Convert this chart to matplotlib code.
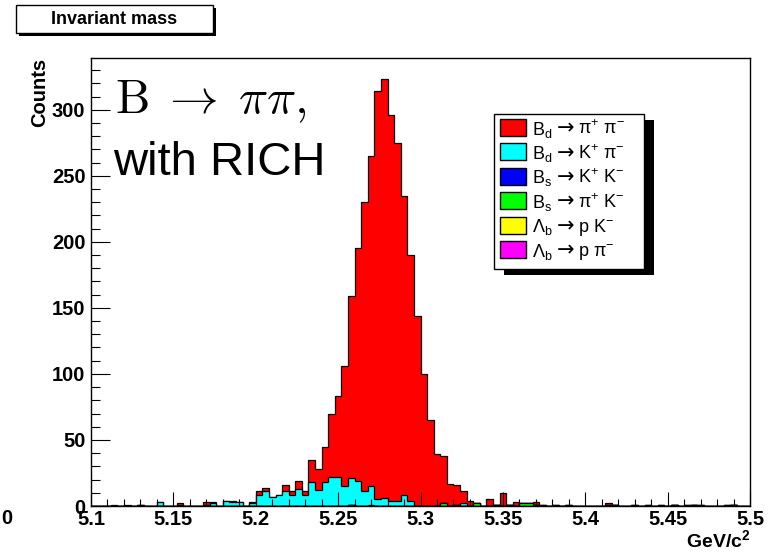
import numpy as np
import matplotlib.pyplot as plt
from matplotlib.patches import Rectangle

plt.rcParams['font.family'] = ['Liberation Sans', 'DejaVu Sans']
plt.rcParams['mathtext.fontset'] = 'custom'
plt.rcParams['mathtext.rm'] = 'Liberation Sans'
plt.rcParams['mathtext.it'] = 'Liberation Sans:italic'
plt.rcParams['mathtext.bf'] = 'Liberation Sans:bold'

# 100 bins of 4 MeV between 5.1 and 5.5 GeV/c^2
x_min, x_max, n_bins = 5.1, 5.5, 100

# counts per bin (20 bins per row)
bd_pipi = [0, 0, 0, 1, 0, 1, 0, 0, 0, 0, 0, 0, 0, 1, 0, 0, 0, 2, 1, 0,
           0, 1, 0, 0, 1, 3, 3, 0, 0, 5, 3, 6, 3, 17, 16, 27, 48, 61, 91, 138,
           176, 219, 250, 309, 317, 292, 271, 227, 186, 144, 100, 65, 39, 36, 17, 15, 9, 4, 0, 0,
           5, 0, 10, 0, 3, 0, 0, 2, 0, 0, 0, 0, 0, 0, 0, 0, 0, 0, 1, 0,
           0, 0, 0, 0, 0, 0, 0, 0, 0, 0, 0, 0, 0, 0, 0, 0, 0, 0, 0, 0]
bd_kpi = [0, 0, 0, 0, 0, 0, 0, 0, 0, 0, 3, 0, 0, 1, 0, 0, 0, 1, 2, 0,
          4, 3, 3, 0, 2, 8, 11, 7, 8, 11, 8, 13, 8, 18, 12, 18, 22, 22, 15, 20,
          19, 11, 14, 5, 6, 4, 4, 8, 4, 0, 0, 0, 0, 0, 0, 0, 2, 0, 0, 0,
          0, 0, 0, 0, 0, 0, 0, 0, 0, 0, 0, 0, 0, 0, 0, 0, 0, 0, 0, 0,
          0, 0, 0, 0, 0, 0, 0, 0, 0, 0, 0, 0, 0, 0, 0, 0, 0, 0, 0, 0]
bs_kk = [0, 0, 0, 0, 0, 0, 0, 1, 0, 0, 0, 0, 0, 0, 0, 0, 0, 0, 0, 0,
         0, 0, 0, 0, 0, 0, 0, 0, 0, 0, 0, 0, 0, 0, 0, 0, 0, 0, 0, 0,
         0, 0, 1, 0, 0, 0, 0, 0, 0, 0, 0, 0, 0, 0, 0, 0, 0, 0, 0, 0,
         0, 0, 0, 0, 0, 0, 0, 0, 1, 0, 1, 0, 1, 0, 0, 0, 0, 0, 1, 0,
         0, 0, 1, 0, 1, 0, 1, 0, 0, 0, 1, 0, 1, 0, 0, 0, 1, 0, 0, 0]
bs_pik = [0, 0, 0, 0, 0, 0, 0, 0, 0, 0, 0, 0, 0, 0, 0, 0, 0, 0, 0, 0,
          0, 0, 0, 0, 0, 0, 0, 0, 0, 0, 0, 0, 0, 0, 0, 0, 0, 0, 0, 0,
          0, 0, 0, 0, 0, 0, 0, 0, 0, 0, 0, 0, 0, 2, 0, 1, 0, 0, 2, 0,
          0, 0, 0, 0, 0, 2, 2, 1, 0, 0, 0, 0, 0, 0, 0, 0, 0, 0, 0, 0,
          0, 0, 0, 0, 0, 0, 0, 0, 0, 0, 0, 0, 0, 0, 0, 0, 0, 0, 0, 0]
lb_pk = [0] * 100
lb_ppi = [0, 0, 0, 0, 0, 0, 0, 0, 0, 0, 0, 0, 0, 0, 0, 0, 0, 0, 0, 0,
          0, 0, 0, 0, 0, 0, 0, 0, 0, 0, 0, 0, 0, 0, 0, 0, 0, 0, 0, 1,
          0, 0, 0, 0, 0, 0, 0, 0, 0, 0, 0, 0, 0, 0, 0, 0, 0, 0, 0, 0,
          0, 1, 0, 1, 0, 0, 0, 0, 0, 0, 0, 0, 0, 0, 0, 0, 0, 0, 0, 1,
          0, 0, 0, 0, 0, 0, 0, 0, 1, 0, 0, 1, 0, 0, 0, 0, 0, 1, 0, 0]

# stacking order, bottom first
stack = [lb_ppi, lb_pk, bs_pik, bs_kk, bd_kpi, bd_pipi]
colors = ['#ff00ff', '#ffff00', '#00ff00', '#0000ff', '#00ffff', '#ff0000']

# legend entries: mother, arrow, daughters
legend_mother = [r'B$_{\rm d}$', r'B$_{\rm d}$', r'B$_{\rm s}$',
                 r'B$_{\rm s}$', r'Λ$_{\rm b}$', r'Λ$_{\rm b}$']
legend_daughters = [r'π$^{+}$ π$^{-}$', r'K$^{+}$ π$^{-}$', r'K$^{+}$ K$^{-}$',
                    r'π$^{+}$ K$^{-}$', r'p K$^{-}$', r'p π$^{-}$']
legend_colors = ['#ff0000', '#00ffff', '#0000ff', '#00ff00', '#ffff00', '#ff00ff']

W, H = 778, 552


def fx(x):
    return x / W


def fy(y):
    return 1 - y / H


fig = plt.figure(figsize=(W / 100, H / 100), dpi=100)
ax = fig.add_axes([fx(91), fy(506), (750 - 91) / W, (506 - 58) / H])

edges = np.linspace(x_min, x_max, n_bins + 1)
cum = np.cumsum(np.array(stack, dtype=float), axis=0)

# draw the stacked sums from the top down, like THStack
for k in range(len(stack) - 1, -1, -1):
    ax.stairs(cum[k], edges, fill=True, facecolor=colors[k],
              edgecolor='black', linewidth=0.9)

ax.set_xlim(x_min, x_max)
ax.set_ylim(0, 1.05 * cum[-1].max())

xt = np.round(np.arange(5.1, 5.5001, 0.05), 2)
ax.set_xticks(xt)
ax.set_xticklabels(['%g' % v for v in xt])
ax.set_xticks(np.arange(5.1, 5.5001, 0.01), minor=True)
ax.set_yticks(np.arange(0, 301, 50))
ax.set_yticks(np.arange(0, 331, 10), minor=True)

for lab in ax.get_xticklabels() + ax.get_yticklabels():
    lab.set_fontweight('bold')
    lab.set_fontsize(14.5)

ax.tick_params(axis='x', which='major', direction='in', length=10, width=0.8, pad=3)
ax.tick_params(axis='x', which='minor', direction='in', length=5, width=0.8)
ax.tick_params(axis='y', which='major', direction='in', length=13.5, width=0.8, pad=4)
ax.tick_params(axis='y', which='minor', direction='in', length=6.8, width=0.8)
for s in ax.spines.values():
    s.set_linewidth(1.0)

fig.text(fx(40), fy(58), 'Counts', rotation=90, ha='center', va='top',
         fontsize=14.5, fontweight='bold')
fig.text(fx(750), fy(551), r'GeV/c$^{\mathbf{2}}$', ha='right', va='bottom',
         fontsize=14, fontweight='bold')
fig.text(fx(12), fy(519), '0', ha='right', va='center', fontsize=14.5, fontweight='bold')

# big labels inside the frame
fig.text(fx(115), fy(113), r'$\mathrm{B}\;\rightarrow\;\pi\pi,$', fontsize=35,
         math_fontfamily='cm', ha='left', va='baseline')
fig.text(fx(113), fy(175), 'with RICH', fontsize=34, ha='left', va='baseline')

# title box with shadow
fig.add_artist(Rectangle((fx(19), fy(36)), (213 - 16) / W, (33 - 5) / H,
                         transform=fig.transFigure, facecolor='black', edgecolor='none'))
fig.add_artist(Rectangle((fx(16), fy(33)), (213 - 16) / W, (33 - 5) / H,
                         transform=fig.transFigure, facecolor='white',
                         edgecolor='black', linewidth=1))
fig.text(fx(114), fy(20), 'Invariant mass', ha='center', va='center',
         fontsize=13, fontweight='bold')

# legend with shadow
lx0, lx1, ly0, ly1 = 494, 644, 114, 269
fig.add_artist(Rectangle((fx(lx0 + 10), fy(ly1 + 6)), (lx1 - lx0) / W, (ly1 - ly0) / H,
                         transform=fig.transFigure, facecolor='black', edgecolor='none'))
fig.add_artist(Rectangle((fx(lx0), fy(ly1)), (lx1 - lx0) / W, (ly1 - ly0) / H,
                         transform=fig.transFigure, facecolor='white',
                         edgecolor='black', linewidth=1))
for i, col in enumerate(legend_colors):
    yc = 127.5 + i * 24.4
    fig.add_artist(Rectangle((fx(500), fy(yc + 8.5)), 26 / W, 17 / H,
                             transform=fig.transFigure, facecolor=col,
                             edgecolor='black', linewidth=1))
    fig.text(fx(532), fy(yc + 7), legend_mother[i], ha='left', va='baseline', fontsize=13)
    fig.text(fx(566), fy(yc + 1), '→', ha='center', va='center', fontsize=15,
             family='DejaVu Sans')
    fig.text(fx(578), fy(yc + 7), legend_daughters[i], ha='left', va='baseline', fontsize=13)

fig.savefig('out.png', dpi=100)
